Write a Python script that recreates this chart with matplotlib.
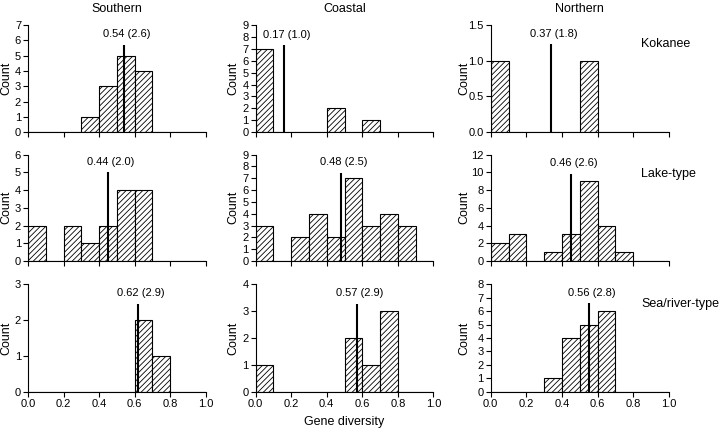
import matplotlib
matplotlib.use("Agg")
import matplotlib.pyplot as plt

# 基本設定
plt.rcParams['font.family'] = ['Liberation Sans', 'DejaVu Sans']
plt.rcParams['hatch.linewidth'] = 0.6

# 資料: 每格 0.1 寬的直方圖 (0.0-1.0)
bin_left = [0.0, 0.1, 0.2, 0.3, 0.4, 0.5, 0.6, 0.7, 0.8, 0.9]
regions = ["Southern", "Coastal", "Northern"]
ecotypes = ["Kokanee", "Lake-type", "Sea/river-type"]

counts = [
    [[0, 0, 0, 1, 3, 5, 4, 0, 0, 0],   # Southern Kokanee
     [7, 0, 0, 0, 2, 0, 1, 0, 0, 0],   # Coastal Kokanee
     [1, 0, 0, 0, 0, 1, 0, 0, 0, 0]],  # Northern Kokanee
    [[2, 0, 2, 1, 2, 4, 4, 0, 0, 0],
     [3, 0, 2, 4, 2, 7, 3, 4, 3, 0],
     [2, 3, 0, 1, 3, 9, 4, 1, 0, 0]],
    [[0, 0, 0, 0, 0, 0, 2, 1, 0, 0],
     [1, 0, 0, 0, 0, 2, 1, 3, 0, 0],
     [0, 0, 0, 1, 4, 5, 6, 0, 0, 0]],
]

mean_div = [[0.54, 0.17, 0.37], [0.44, 0.48, 0.46], [0.62, 0.57, 0.56]]
richness = [[2.6, 1.0, 1.8], [2.0, 2.5, 2.6], [2.9, 2.9, 2.8]]
line_pos = [[0.54, 0.16, 0.34], [0.45, 0.48, 0.45], [0.62, 0.57, 0.55]]
line_top = [[5.7, 7.3, 1.23], [5.0, 7.45, 9.85], [2.45, 3.28, 6.6]]

ymax = [[7, 9, 1.5], [6, 9, 12], [3, 4, 8]]
ystep = [[1, 1, 0.5], [1, 1, 2], [1, 1, 1]]
x_ticks = [0.0, 0.2, 0.4, 0.6, 0.8, 1.0]

# 版面位置 (figure fraction)
col_left = [0.0389, 0.355, 0.6815]
col_width = [0.247, 0.247, 0.2476]
row_bottom = [0.691, 0.390, 0.0848]
row_height = [0.2507, 0.249, 0.251]
ylabel_x = [-0.087, -0.09, -0.113]

fig = plt.figure(figsize=(7.2, 4.28), dpi=100)

for r in range(3):
    for c in range(3):
        ax = fig.add_axes([col_left[c], row_bottom[r], col_width[c], row_height[r]])
        ax.bar(bin_left, counts[r][c], width=0.1, align='edge',
               color='white', edgecolor='black', linewidth=0.8, hatch='//////')
        ax.vlines(line_pos[r][c], 0, line_top[r][c], color='black', linewidth=1.5)
        ax.annotate(f"{mean_div[r][c]:.2f} ({richness[r][c]:.1f})",
                    xy=(line_pos[r][c], line_top[r][c]), xytext=(2, 4),
                    textcoords='offset points', ha='center', va='bottom', fontsize=8)

        ax.set_xlim(0, 1)
        ax.set_ylim(0, ymax[r][c])
        n = int(round(ymax[r][c] / ystep[r][c]))
        yt = [i * ystep[r][c] for i in range(n + 1)]
        ax.set_yticks(yt)
        if ystep[r][c] < 1:
            ax.set_yticklabels([f"{v:.1f}" for v in yt])
        ax.set_xticks(x_ticks)
        if r == 2:
            ax.set_xticklabels([f"{v:.1f}" for v in x_ticks])
        else:
            ax.set_xticklabels([])

        for s in ['top', 'right']:
            ax.spines[s].set_visible(False)
        for s in ['left', 'bottom']:
            ax.spines[s].set_linewidth(0.8)
        ax.tick_params(direction='out', length=3.5, width=0.8, labelsize=8, pad=1.5)

        ax.set_ylabel("Count", fontsize=9)
        ax.yaxis.set_label_coords(ylabel_x[c], 0.5)

        if r == 0:
            ax.set_title(regions[c], fontsize=9, pad=9)
        if c == 2:
            ax.text(0.843, 0.82, ecotypes[r], transform=ax.transAxes,
                    ha='left', va='center', fontsize=9)
        if r == 2 and c == 1:
            ax.set_xlabel("Gene diversity", fontsize=9, labelpad=5)

plt.savefig("out.png", dpi=100)
